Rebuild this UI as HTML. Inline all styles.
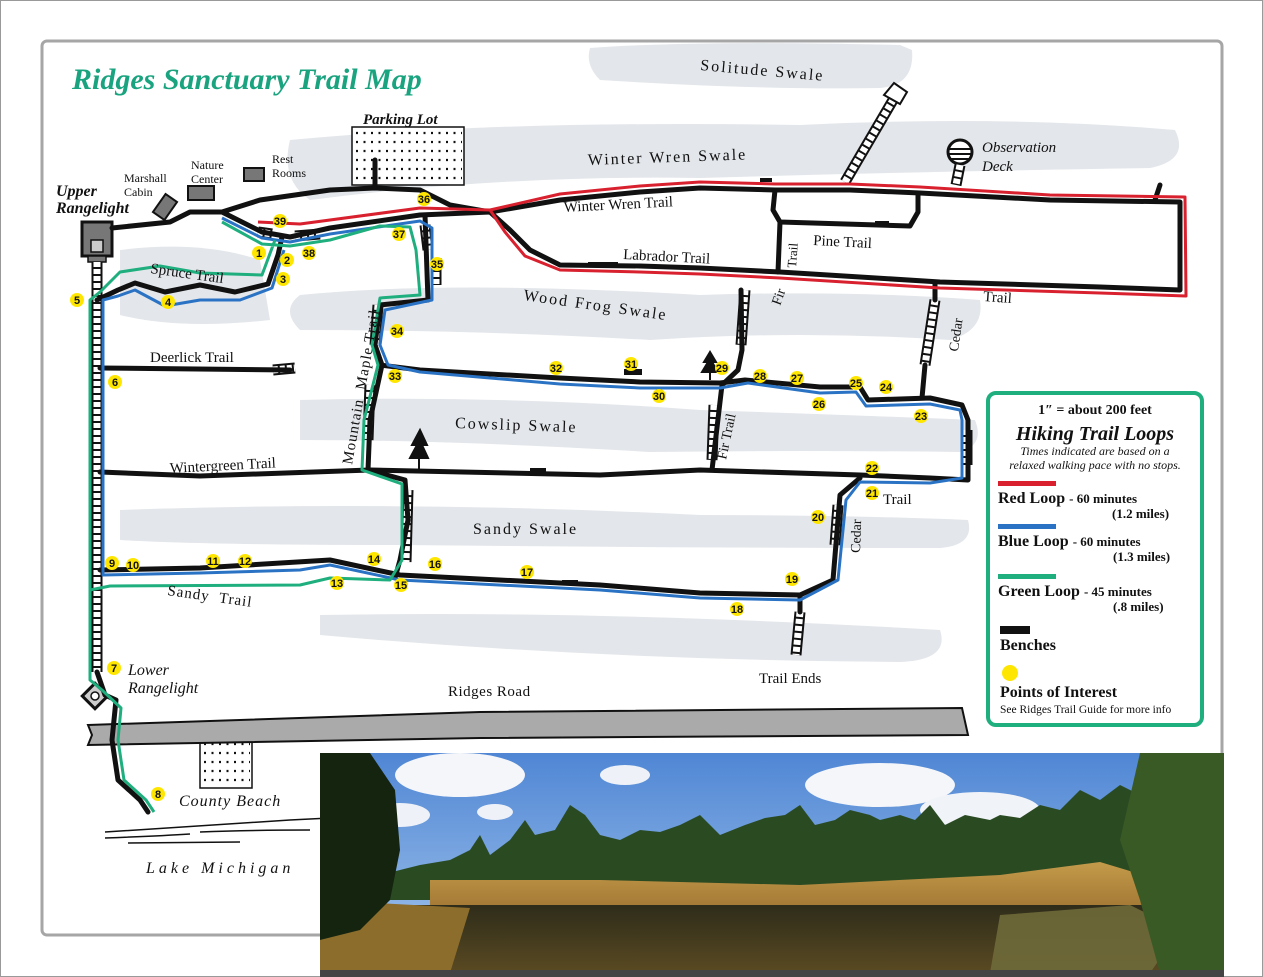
<!DOCTYPE html>
<html><head><meta charset="utf-8"><style>
html,body{margin:0;padding:0;background:#fff}
svg{display:block}
text{font-family:"Liberation Serif",serif;fill:#111}
.sw{fill:#e3e6ea}
.bk{fill:none;stroke:#111;stroke-width:5;stroke-linejoin:round;stroke-linecap:round}
.rd{fill:none;stroke:#d8202e;stroke-width:3;stroke-linejoin:round}
.bl{fill:none;stroke:#2a73c4;stroke-width:3;stroke-linejoin:round}
.gr{fill:none;stroke:#1fae7e;stroke-width:3;stroke-linejoin:round}
.bw{fill:none;stroke:#111;stroke-width:11}
.bwi{fill:none;stroke:#fff;stroke-width:7;stroke-dasharray:5 2}
.n{font-family:"Liberation Sans",sans-serif;font-weight:bold;font-size:11px;text-anchor:middle}
.dot{fill:none;stroke:#111;stroke-width:2.2;stroke-dasharray:2 5.5}
</style></head><body>
<svg width="1263" height="977" viewBox="0 0 1263 977" xmlns="http://www.w3.org/2000/svg">
<rect x="0" y="0" width="1263" height="977" fill="#fff"/>
<rect x="0.5" y="0.5" width="1262" height="976" fill="none" stroke="#999"/>
<rect x="42" y="41" width="1180" height="894" rx="5" fill="#fff" stroke="#a6a6a6" stroke-width="3"/>

<!-- swales -->
<path class="sw" d="M590,48 Q700,40 900,45 L912,50 Q915,85 880,88 Q760,90 600,80 Q585,65 590,48Z"/>
<path class="sw" d="M290,140 Q500,120 800,125 Q1000,115 1175,130 Q1190,160 1150,168 Q900,172 700,178 Q500,175 310,200 Q280,180 290,140Z"/>
<path class="sw" d="M300,295 Q450,280 700,295 Q850,290 980,300 Q985,330 950,340 Q800,330 650,340 Q480,330 300,330 Q280,310 300,295Z"/>
<path class="sw" d="M120,250 Q200,240 260,260 L270,320 Q180,330 120,315Z"/>
<path class="sw" d="M300,400 Q500,395 700,410 Q850,415 975,420 Q985,445 960,452 Q800,450 650,452 Q450,440 300,440Z"/>
<path class="sw" d="M120,510 Q400,500 700,515 Q850,515 968,520 Q975,545 940,548 Q700,548 400,545 Q200,545 120,540Z"/>
<path class="sw" d="M320,615 Q600,610 940,630 Q950,660 900,662 Q600,660 320,635Z"/>

<!-- title -->
<text x="72" y="89" font-size="30" font-weight="bold" font-style="italic" style="fill:#1aa37f">Ridges Sanctuary Trail Map</text>

<!-- buildings -->
<rect x="352" y="127" width="112" height="58" fill="#fff" stroke="#111" stroke-width="1.5"/>
<path class="dot" d="M356,133 H462 M356,142 H462 M356,151 H462 M356,160 H462 M356,169 H462 M356,178 H462"/>
<rect x="200" y="738" width="52" height="50" fill="#fff" stroke="#111" stroke-width="1.5"/>
<path class="dot" d="M204,744 H250 M204,753 H250 M204,762 H250 M204,771 H250 M204,780 H250"/>
<rect x="188" y="186" width="26" height="14" fill="#777" stroke="#111" stroke-width="2"/>
<rect x="244" y="168" width="20" height="13" fill="#777" stroke="#111" stroke-width="2"/>
<rect x="158" y="196" width="14" height="22" fill="#777" stroke="#111" stroke-width="2" transform="rotate(35 165 207)"/>
<rect x="82" y="222" width="30" height="34" fill="#777" stroke="#111" stroke-width="3"/>
<rect x="91" y="240" width="12" height="12" fill="#ccc" stroke="#111" stroke-width="1.5"/>
<rect x="88" y="256" width="18" height="6" fill="#777" stroke="#111" stroke-width="1.5"/>
<rect x="86" y="687" width="18" height="18" fill="#ccc" stroke="#111" stroke-width="3" transform="rotate(45 95 696)"/>
<circle cx="95" cy="696" r="4" fill="#fff" stroke="#111" stroke-width="1.5"/>

<!-- road -->
<path d="M88,725 L480,712 L962,708 L968,735 L480,738 L88,745 L92,735Z" fill="#aaa" stroke="#111" stroke-width="2"/>

<!-- lake -->
<path d="M105,832 Q200,826 290,820 Q330,818 330,818 M105,838 Q160,836 190,834 M200,832 Q250,830 310,830 M128,843 L240,842" fill="none" stroke="#111" stroke-width="1.5"/>

<!-- boardwalks -->
<g>
<path class="bw" d="M97,262 L97,672"/><path class="bwi" d="M97,262 L97,672"/>
<path class="bw" d="M845,182 L893,100"/><path class="bwi" d="M845,182 L893,100"/>
<path class="bw" d="M378,305 L375,345"/><path class="bwi" d="M378,305 L375,345"/>
<path class="bw" d="M370,385 L368,440"/><path class="bwi" d="M370,385 L368,440"/>
<path class="bw" d="M408,490 L406,562"/><path class="bwi" d="M408,490 L406,562"/>
<path class="bw" d="M935,300 L925,365"/><path class="bwi" d="M935,300 L925,365"/>
<path class="bw" d="M967,430 L967,465"/><path class="bwi" d="M967,430 L967,465"/>
<path class="bw" d="M745,290 L741,345"/><path class="bwi" d="M745,290 L741,345"/>
<path class="bw" d="M714,405 L712,460"/><path class="bwi" d="M714,405 L712,460"/>
<path class="bw" d="M838,505 L835,545"/><path class="bwi" d="M838,505 L835,545"/>
<path class="bw" d="M800,612 L796,655"/><path class="bwi" d="M800,612 L796,655"/>
<path class="bw" d="M425,225 L428,250"/><path class="bwi" d="M425,225 L428,250"/>
<path class="bw" d="M436,258 L436,285"/><path class="bwi" d="M436,258 L436,285"/>
<path class="bw" d="M295,236 L320,234"/><path class="bwi" d="M295,236 L320,234"/>
<path class="bw" d="M258,232 L272,234"/><path class="bwi" d="M258,232 L272,234"/>
<path class="bw" d="M273,370 L295,368"/><path class="bwi" d="M273,370 L295,368"/>
</g>
<path d="M884,95 L894,83 L907,92 L900,104Z" fill="#fff" stroke="#111" stroke-width="2"/>
<circle cx="960" cy="152" r="12" fill="#fff" stroke="#111" stroke-width="3"/>
<path d="M949,149 H971 M948,154 H972 M950,159 H970" stroke="#111" stroke-width="2"/>
<path class="bw" d="M960,165 L956,185"/><path class="bwi" d="M960,165 L956,185"/>

<!-- black trails -->
<g class="bk">
<path d="M112,228 L170,222 L190,212 L222,212 L260,200 L330,190 L375,188 L420,190 L450,205 L490,212"/>
<path d="M375,160 L375,188"/>
<path d="M222,212 L262,232 L290,237 L330,228 L420,215 L490,212 L560,200 L640,192 L700,188 L775,190 L850,190 L920,193 L1050,200 L1180,202 L1180,290 L1100,287 L940,282 L780,272 L700,268 L640,266 L560,265 L530,250 L510,230 L490,212"/>
<path d="M1155,200 L1160,185"/>
<path d="M775,190 L773,210 L780,222 L910,226 L918,212 L918,193"/>
<path d="M780,222 L778,272"/>
<path d="M97,300 L118,290 L135,283 L165,292 L200,285 L235,292 L268,284 L278,255 L282,237"/>
<path d="M100,368 L290,370"/>
<path d="M380,365 L420,370 L560,378 L640,382 L720,383 L745,380 L820,387 L860,387 L868,400 L930,398 L962,405 L968,420 L968,470 L968,480 L930,478 L860,475 L700,470 L600,475 L370,470 L200,476 L100,472"/>
<path d="M860,478 L840,495 L833,580 L800,595 L700,593 L600,585 L400,575 L330,560 L200,568 L100,570"/>
<path d="M741,290 L742,350 L738,370 L722,385 L712,470"/>
<path d="M935,282 L935,300 M925,365 L922,398"/>
<path d="M425,215 L428,300 L380,305 L375,345 L382,365 L370,420 L368,470 L405,480 L408,520 L400,560 L395,578"/>
<path d="M800,595 L800,612"/>
<path d="M97,672 L105,695 L116,700 L112,740 L118,780 L140,800 L148,812"/>
</g>
<!-- colored loops -->
<path class="rd" d="M258,222 L300,224 L420,208 L490,210 L560,194 L640,186 L700,182 L775,184 L850,184 L920,187 L1050,195 L1185,197 L1186,296 L1100,293 L940,288 L780,278 L700,274 L640,272 L560,270 L525,256 L505,232 L490,210"/>
<path class="bl" d="M222,218 L262,238 L290,242 L330,234 L420,221 L432,228 L432,300 L385,310 L380,345 L388,365 L420,372 L560,384 L640,388 L720,388 L748,383 L820,393 L856,392 L866,406 L930,404 L960,410 L962,420 L962,478 L930,483 L860,482 L846,500 L838,580 L800,600 L700,598 L600,590 L400,580 L330,565 L300,570 L200,573 L103,575 L103,300 L118,296 L135,290 L165,306 L200,300 L240,300 L272,288 L284,250"/>
<path class="gr" d="M222,222 L262,244 L290,246 L330,240 L380,226 L410,227 L416,250 L420,295 L380,298 L372,345 L378,365 L364,420 L362,470 L402,484 L402,560 L390,580 L330,578 L300,585 L110,586 L90,590 L90,300 L100,292 L120,272 L160,266 L200,273 L262,275 L275,240"/>
<path class="gr" d="M90,590 L90,680 L102,690 L121,708 L118,740 L124,780 L146,800 L154,812"/>

<!-- benches -->
<rect x="588" y="262" width="30" height="4" fill="#111"/>
<rect x="624" y="369" width="18" height="6" fill="#111"/>
<rect x="530" y="468" width="16" height="4" fill="#111"/>
<rect x="562" y="580" width="16" height="4" fill="#111"/>
<rect x="875" y="221" width="14" height="4" fill="#111"/>
<rect x="760" y="178" width="12" height="4" fill="#111"/>

<!-- trees -->
<path d="M420,430 L412,445 L417,445 L410,458 L428,458 L422,445 L427,445Z M419,458 V470" fill="#111" stroke="#111" stroke-width="2"/>
<path d="M710,352 L704,362 L708,362 L702,372 L718,372 L712,362 L716,362Z M710,372 V380" fill="#111" stroke="#111" stroke-width="2"/>

<!-- labels -->
<g font-size="14">
<text x="363" y="124" font-style="italic" font-weight="bold" font-size="15">Parking Lot</text>
<text x="124" y="182" font-size="12">Marshall</text><text x="124" y="196" font-size="12">Cabin</text>
<text x="191" y="169" font-size="12">Nature</text><text x="191" y="183" font-size="12">Center</text>
<text x="272" y="163" font-size="12">Rest</text><text x="272" y="177" font-size="12">Rooms</text>
<text x="56" y="196" font-style="italic" font-weight="bold" font-size="16">Upper</text>
<text x="56" y="213" font-style="italic" font-weight="bold" font-size="16">Rangelight</text>
<text x="128" y="675" font-style="italic" font-size="16">Lower</text>
<text x="128" y="693" font-style="italic" font-size="16">Rangelight</text>
<text x="179" y="806" font-style="italic" font-size="16" letter-spacing="1">County Beach</text>
<text x="146" y="873" font-style="italic" font-size="16" letter-spacing="4">Lake Michigan</text>
<text x="448" y="696" font-size="15" letter-spacing="0.5">Ridges Road</text>
<text x="759" y="683" font-size="15">Trail Ends</text>
<text x="700" y="70" font-size="16" letter-spacing="2" transform="rotate(5 700 70)">Solitude Swale</text>
<text x="588" y="165" font-size="16" letter-spacing="2" transform="rotate(-2 588 165)">Winter Wren Swale</text>
<text x="564" y="212" font-size="15" transform="rotate(-3 564 212)">Winter Wren Trail</text>
<text x="623" y="259" font-size="15" transform="rotate(3 623 259)">Labrador Trail</text>
<text x="813" y="245" font-size="15" transform="rotate(3 813 245)">Pine Trail</text>
<text x="982" y="152" font-style="italic" font-size="15">Observation</text>
<text x="982" y="171" font-style="italic" font-size="15">Deck</text>
<text x="983" y="301" font-size="15" transform="rotate(4 983 301)">Trail</text>
<text x="523" y="300" font-size="16" letter-spacing="2" transform="rotate(8 523 300)">Wood Frog Swale</text>
<text x="150" y="273" font-size="15" transform="rotate(8 150 273)">Spruce Trail</text>
<text x="150" y="362" font-size="15">Deerlick Trail</text>
<text x="170" y="473" font-size="15" transform="rotate(-3 170 473)">Wintergreen Trail</text>
<text x="455" y="428" font-size="16" letter-spacing="2" transform="rotate(2 455 428)">Cowslip Swale</text>
<text x="473" y="534" font-size="16" letter-spacing="2">Sandy Swale</text>
<text x="167" y="595" font-size="15" letter-spacing="1" transform="rotate(8 167 595)">Sandy &#160;Trail</text>
<text x="883" y="504" font-size="15">Trail</text>
<text x="0" y="0" font-size="15" letter-spacing="1" transform="translate(352,465) rotate(-80)">Mountain &#160;Maple Trail</text>
<text x="0" y="0" font-size="14" transform="translate(860,553) rotate(-88)">Cedar</text>
<text x="0" y="0" font-size="14" transform="translate(958,352) rotate(-82)">Cedar</text>
<text x="0" y="0" font-size="14" transform="translate(726,460) rotate(-78)">Fir Trail</text>
<text x="0" y="0" font-size="14" transform="translate(780,306) rotate(-70)">Fir</text>
<text x="0" y="0" font-size="13" transform="translate(796,268) rotate(-86)">Trail</text>
</g>

<!-- points of interest -->
<g fill="#ffe600">
<circle cx="259" cy="253" r="7"/><circle cx="287" cy="260" r="7"/><circle cx="283" cy="279" r="7"/><circle cx="168" cy="302" r="7"/><circle cx="77" cy="300" r="7"/><circle cx="115" cy="382" r="7"/><circle cx="114" cy="668" r="7"/><circle cx="158" cy="794" r="7"/><circle cx="112" cy="563" r="7"/><circle cx="133" cy="565" r="7"/><circle cx="213" cy="561" r="7"/><circle cx="245" cy="561" r="7"/><circle cx="337" cy="583" r="7"/><circle cx="374" cy="559" r="7"/><circle cx="401" cy="585" r="7"/><circle cx="435" cy="564" r="7"/><circle cx="527" cy="572" r="7"/><circle cx="737" cy="609" r="7"/><circle cx="792" cy="579" r="7"/><circle cx="818" cy="517" r="7"/><circle cx="872" cy="493" r="7"/><circle cx="872" cy="468" r="7"/><circle cx="921" cy="416" r="7"/><circle cx="886" cy="387" r="7"/><circle cx="856" cy="383" r="7"/><circle cx="819" cy="404" r="7"/><circle cx="797" cy="378" r="7"/><circle cx="760" cy="376" r="7"/><circle cx="722" cy="368" r="7"/><circle cx="659" cy="396" r="7"/><circle cx="631" cy="364" r="7"/><circle cx="556" cy="368" r="7"/><circle cx="395" cy="376" r="7"/><circle cx="397" cy="331" r="7"/><circle cx="437" cy="264" r="7"/><circle cx="424" cy="199" r="7"/><circle cx="399" cy="234" r="7"/><circle cx="309" cy="253" r="7"/><circle cx="280" cy="221" r="7"/>
</g>
<g>
<text class="n" x="259" y="257">1</text><text class="n" x="287" y="264">2</text><text class="n" x="283" y="283">3</text><text class="n" x="168" y="306">4</text><text class="n" x="77" y="304">5</text><text class="n" x="115" y="386">6</text><text class="n" x="114" y="672">7</text><text class="n" x="158" y="798">8</text><text class="n" x="112" y="567">9</text><text class="n" x="133" y="569">10</text><text class="n" x="213" y="565">11</text><text class="n" x="245" y="565">12</text><text class="n" x="337" y="587">13</text><text class="n" x="374" y="563">14</text><text class="n" x="401" y="589">15</text><text class="n" x="435" y="568">16</text><text class="n" x="527" y="576">17</text><text class="n" x="737" y="613">18</text><text class="n" x="792" y="583">19</text><text class="n" x="818" y="521">20</text><text class="n" x="872" y="497">21</text><text class="n" x="872" y="472">22</text><text class="n" x="921" y="420">23</text><text class="n" x="886" y="391">24</text><text class="n" x="856" y="387">25</text><text class="n" x="819" y="408">26</text><text class="n" x="797" y="382">27</text><text class="n" x="760" y="380">28</text><text class="n" x="722" y="372">29</text><text class="n" x="659" y="400">30</text><text class="n" x="631" y="368">31</text><text class="n" x="556" y="372">32</text><text class="n" x="395" y="380">33</text><text class="n" x="397" y="335">34</text><text class="n" x="437" y="268">35</text><text class="n" x="424" y="203">36</text><text class="n" x="399" y="238">37</text><text class="n" x="309" y="257">38</text><text class="n" x="280" y="225">39</text>
</g>

<!-- legend -->
<rect x="988" y="393" width="214" height="332" rx="8" fill="#fff" stroke="#1fae7e" stroke-width="4"/>
<text x="1095" y="414" font-size="14" font-weight="bold" text-anchor="middle">1″ = about 200 feet</text>
<text x="1095" y="440" font-size="20" font-weight="bold" font-style="italic" text-anchor="middle">Hiking Trail Loops</text>
<text x="1095" y="455" font-size="12" font-style="italic" text-anchor="middle">Times indicated are based on a</text>
<text x="1095" y="469" font-size="12" font-style="italic" text-anchor="middle">relaxed walking pace with no stops.</text>
<rect x="998" y="481" width="58" height="5" fill="#d8202e"/>
<text x="998" y="503" font-size="16" font-weight="bold">Red Loop <tspan font-size="13">- 60 minutes</tspan></text>
<text x="1112" y="518" font-size="13" font-weight="bold">(1.2 miles)</text>
<rect x="998" y="524" width="58" height="5" fill="#2a73c4"/>
<text x="998" y="546" font-size="16" font-weight="bold">Blue Loop <tspan font-size="13">- 60 minutes</tspan></text>
<text x="1113" y="561" font-size="13" font-weight="bold">(1.3 miles)</text>
<rect x="998" y="574" width="58" height="5" fill="#1fae7e"/>
<text x="998" y="596" font-size="16" font-weight="bold">Green Loop <tspan font-size="13">- 45 minutes</tspan></text>
<text x="1113" y="611" font-size="13" font-weight="bold">(.8 miles)</text>
<rect x="1000" y="626" width="30" height="8" fill="#111"/>
<text x="1000" y="650" font-size="16" font-weight="bold">Benches</text>
<circle cx="1010" cy="673" r="8" fill="#ffe600"/>
<text x="1000" y="697" font-size="16" font-weight="bold">Points of Interest</text>
<text x="1000" y="713" font-size="11.5">See Ridges Trail Guide for more info</text>

<!-- photo -->
<defs>
<linearGradient id="sky" x1="0" y1="0" x2="0" y2="1"><stop offset="0" stop-color="#4f86d4"/><stop offset="1" stop-color="#a8c8ee"/></linearGradient>
<linearGradient id="wat" x1="0" y1="0" x2="0" y2="1"><stop offset="0" stop-color="#2e2c1a"/><stop offset="1" stop-color="#5a4a22"/></linearGradient>
<linearGradient id="grs" x1="0" y1="0" x2="0" y2="1"><stop offset="0" stop-color="#c49a4a"/><stop offset="1" stop-color="#9a7030"/></linearGradient>
</defs>
<rect x="320" y="753" width="904" height="220" fill="url(#sky)"/>
<ellipse cx="460" cy="775" rx="65" ry="22" fill="#f4f6fa"/>
<ellipse cx="400" cy="815" rx="30" ry="12" fill="#eef2f8"/>
<ellipse cx="495" cy="812" rx="18" ry="8" fill="#eef2f8"/>
<ellipse cx="625" cy="775" rx="25" ry="10" fill="#eef2f8"/>
<ellipse cx="880" cy="785" rx="75" ry="22" fill="#f4f6fa"/>
<ellipse cx="980" cy="810" rx="60" ry="18" fill="#f0f3f8"/>
<path d="M380,875 L420,865 L450,860 L470,850 L480,835 L490,855 L510,840 L525,820 L535,835 L555,830 L570,805 L585,815 L600,835 L620,840 L640,830 L660,832 L680,825 L700,815 L720,835 L745,825 L765,818 L785,815 L800,805 L815,825 L835,820 L850,810 L870,815 L880,820 L900,815 L915,820 L930,805 L945,825 L965,815 L990,820 L1000,815 L1020,818 L1040,805 L1060,810 L1080,790 L1100,800 L1120,785 L1150,800 L1224,790 L1224,900 L380,900Z" fill="#2a4a22"/>
<path d="M430,880 L600,880 L800,885 L1000,875 L1100,862 L1160,880 L1160,920 L430,915Z" fill="url(#grs)"/>
<rect x="320" y="905" width="904" height="68" fill="url(#wat)"/>
<path d="M320,900 L470,908 L450,973 L320,973Z" fill="#8d6d2c"/>
<path d="M1000,915 L1130,905 L1180,930 L1150,973 L990,973Z" fill="#6f6a3a" opacity="0.9"/>
<path d="M320,753 L370,753 L395,790 L400,850 L390,900 L360,930 L320,940Z" fill="#15240f"/>
<path d="M1140,753 L1224,753 L1224,973 L1160,973 L1140,900 L1120,840Z" fill="#3a5a25"/>
<rect x="320" y="970" width="904" height="7" fill="#444"/>
</svg>
</body></html>
